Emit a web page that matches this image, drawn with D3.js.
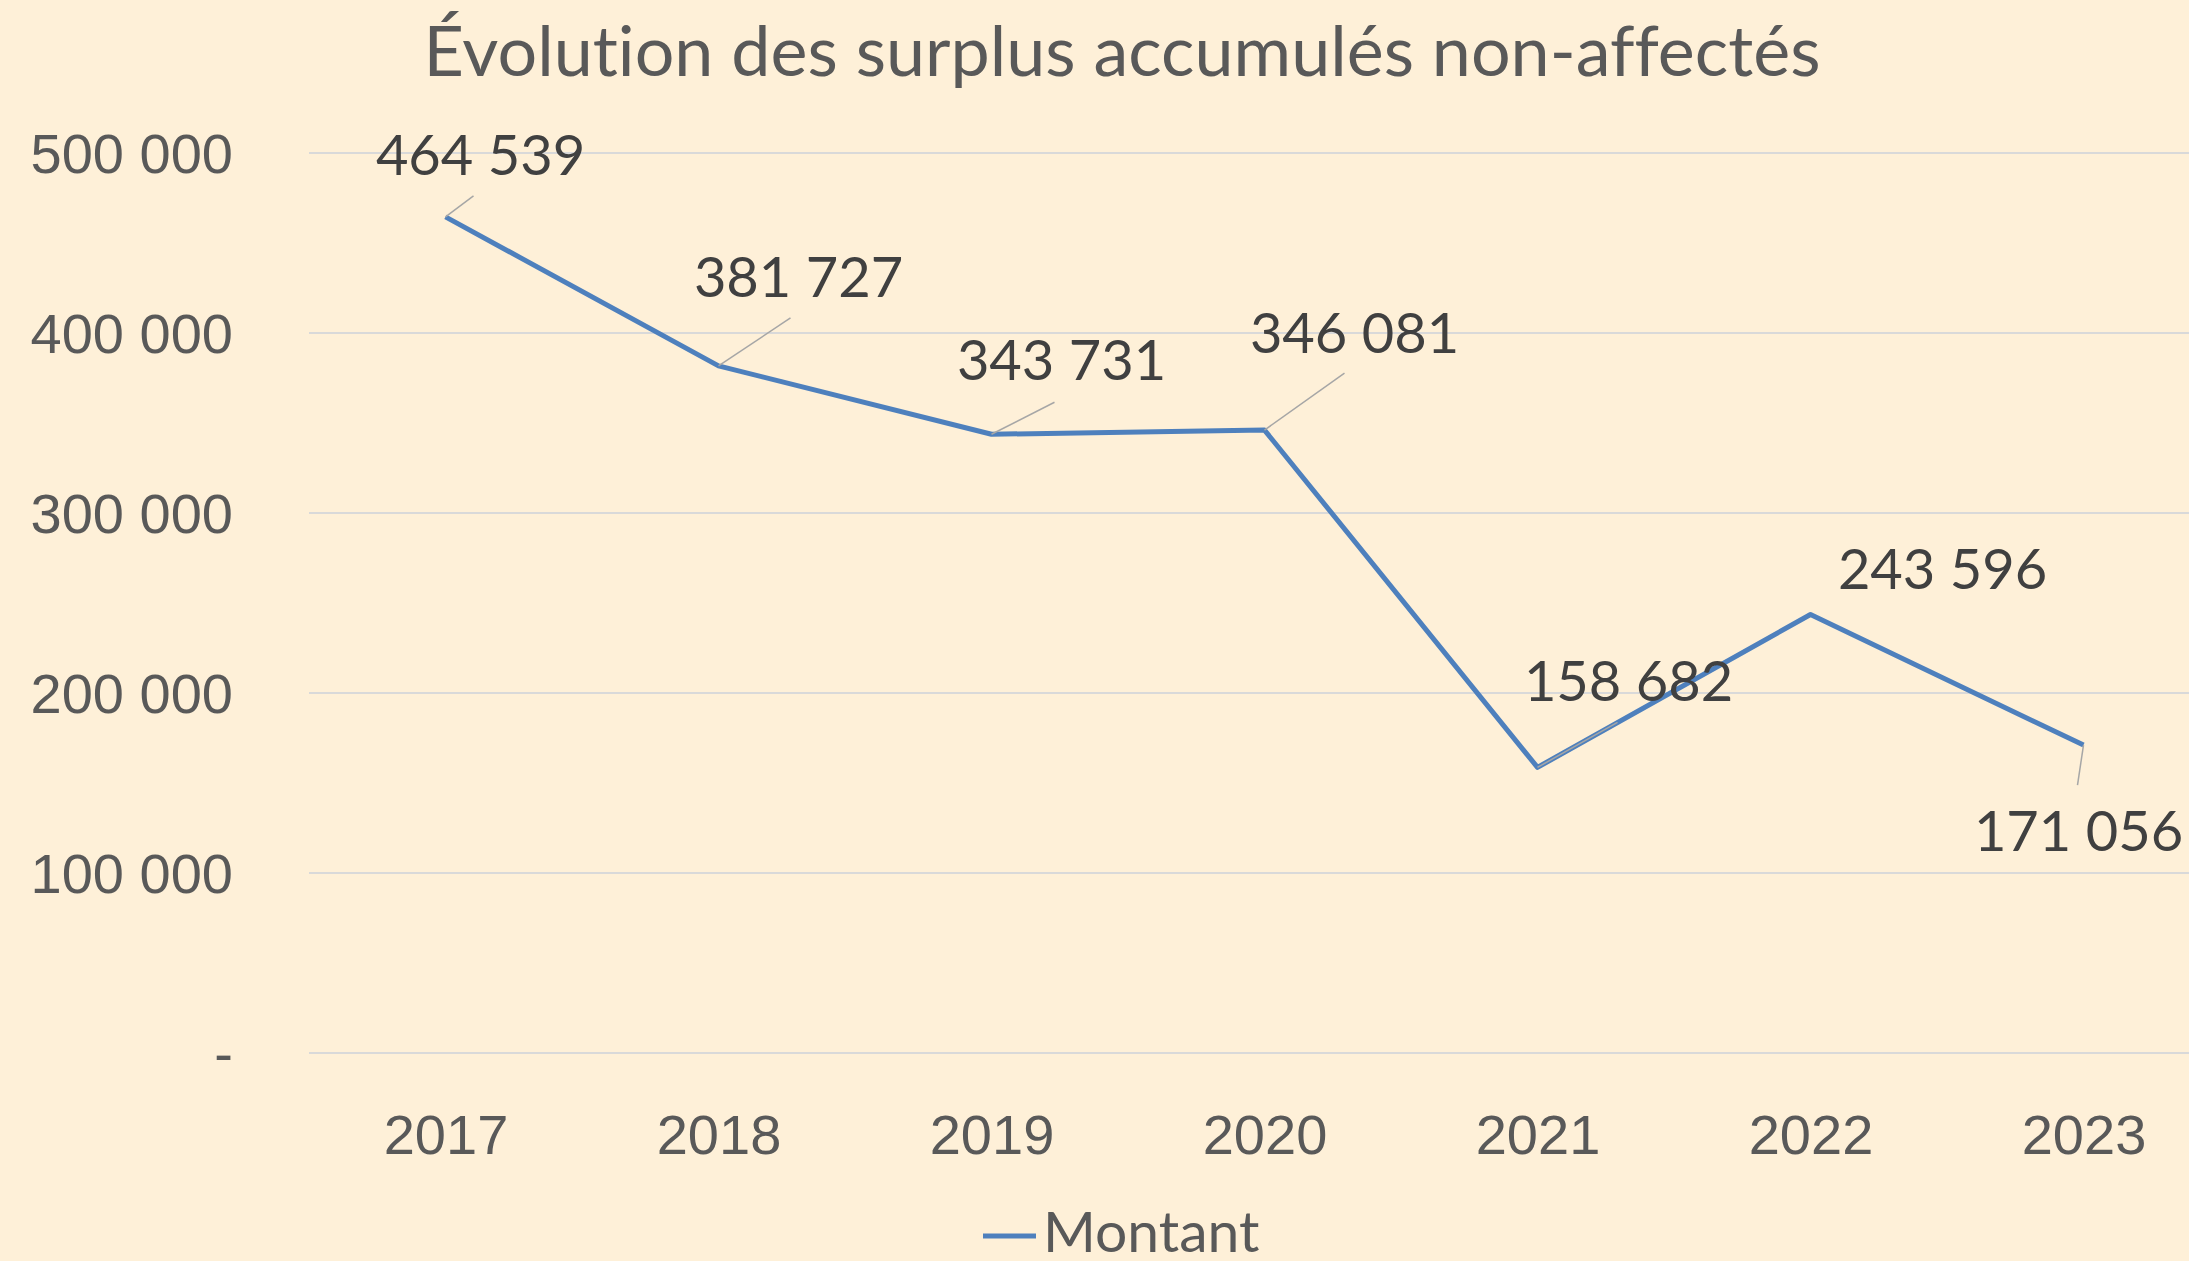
<!DOCTYPE html>
<html>
<head>
<meta charset="utf-8">
<script src="https://cdn.jsdelivr.net/npm/d3@7"></script>
<style>
  body { margin: 0; background: #fef0d8; }
  svg { display: block; font-family: Lato, "Open Sans", sans-serif; font-variant-ligatures: none; }
</style>
</head>
<body>
<svg id="chart" width="2189" height="1261"></svg>
<script>
// data
let years = ["2017", "2018", "2019", "2020", "2021", "2022", "2023"]
let montant = [464539, 381727, 343731, 346081, 158682, 243596, 171056]
let yTicks = [0, 100000, 200000, 300000, 400000, 500000]

// where Excel's data labels were dragged to, relative to the point (label centre / baseline, leader end)
let labelOffset = [
    { dx: 35, dy: -42, lx: 28, ly: -21 },
    { dx: 80, dy: -69, lx: 72, ly: -48 },
    { dx: 70, dy: -54, lx: 63, ly: -32 },
    { dx: 90, dy: -77, lx: 80, ly: -57 },
    { dx: 91, dy: -66, lx: 80, ly: -45 },
    { dx: 132, dy: -26, lx: null, ly: null },
    { dx: -5, dy: 106, lx: -6, ly: 40 }
]

let margin = { left: 309, top: 153, right: -31, bottom: 208 }
let width = 2189, height = 1261

let svg = d3.select("#chart")

let xScale = d3.scalePoint()
    .domain(years)
    .range([margin.left, width - margin.right])
    .padding(0.5)

let yScale = d3.scaleLinear()
    .domain([0, 500000])
    .range([height - margin.bottom, margin.top])

let fmt = d => d == 0 ? "-" : d3.format(",")(d).replace(/,/g, " ")

// gridlines
svg.append("g")
    .selectAll("line")
    .data(yTicks)
    .join("line")
    .attr("x1", margin.left)
    .attr("x2", width)
    .attr("y1", d => yScale(d))
    .attr("y2", d => yScale(d))
    .attr("stroke", "#d9d9d9")
    .attr("stroke-width", 2)

// y axis
let yAxis = svg.append("g")
    .attr("transform", `translate(${margin.left - 76},0)`)
    .call(d3.axisLeft(yScale).tickValues(yTicks).tickSize(0).tickPadding(0).tickFormat(fmt))
yAxis.select(".domain").remove()
yAxis.selectAll("text")
    .attr("fill", "#595959")
    .style("font-size", "56px")
    .attr("dy", "0.35em")

// x axis
let xAxis = svg.append("g")
    .attr("transform", `translate(0,${height - margin.bottom})`)
    .call(d3.axisBottom(xScale).tickSize(0).tickPadding(0))
xAxis.select(".domain").remove()
xAxis.selectAll("text")
    .attr("fill", "#595959")
    .style("font-size", "56px")
    .attr("dy", null)
    .attr("y", 101)

// line
let lineGenerator = d3.line()
    .x((d, i) => xScale(years[i]))
    .y(d => yScale(d))

svg.append("path")
    .datum(montant)
    .attr("d", lineGenerator)
    .attr("fill", "none")
    .attr("stroke", "#4e80bd")
    .attr("stroke-width", 5)
    .attr("stroke-linejoin", "round")

// leader lines
svg.append("g")
    .selectAll("line")
    .data(montant.map((v, i) => ({ v: v, i: i })).filter(d => labelOffset[d.i].lx !== null))
    .join("line")
    .attr("x1", d => xScale(years[d.i]))
    .attr("y1", d => yScale(d.v))
    .attr("x2", d => xScale(years[d.i]) + labelOffset[d.i].lx)
    .attr("y2", d => yScale(d.v) + labelOffset[d.i].ly)
    .attr("stroke", "#a6a6a6")
    .attr("stroke-width", 1.5)

// data labels
svg.append("g")
    .selectAll("text")
    .data(montant)
    .join("text")
    .attr("x", (d, i) => xScale(years[i]) + labelOffset[i].dx)
    .attr("y", (d, i) => yScale(d) + labelOffset[i].dy)
    .attr("text-anchor", "middle")
    .attr("fill", "#404040")
    .style("font-size", "56px")
    .text(d => fmt(d))

// title
svg.append("text")
    .attr("x", 1122)
    .attr("y", 76)
    .attr("text-anchor", "middle")
    .attr("fill", "#595959")
    .style("font-size", "70px")
    .text("Évolution des surplus accumulés non-affectés")

// legend
let legend = svg.append("g")
legend.append("line")
    .attr("x1", 983).attr("x2", 1036)
    .attr("y1", 1236).attr("y2", 1236)
    .attr("stroke", "#4e80bd")
    .attr("stroke-width", 5)
legend.append("text")
    .attr("x", 1043)
    .attr("y", 1252)
    .attr("fill", "#595959")
    .style("font-size", "57px")
    .text("Montant")
</script>
</body>
</html>
